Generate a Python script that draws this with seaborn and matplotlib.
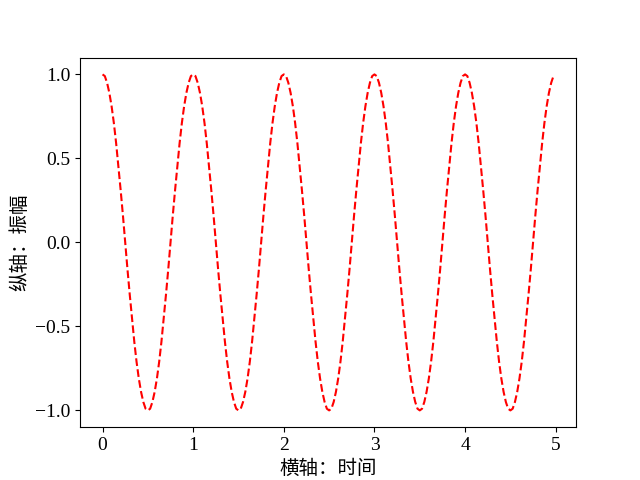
import numpy as np
import pandas as pd
import matplotlib
matplotlib.use("Agg")
import matplotlib.pyplot as plt
from matplotlib.ticker import MultipleLocator
import seaborn as sns

# time samples (0.025 s steps) and amplitude
time_pts = list(np.round(np.arange(0, 5.0, 0.025), 3))
amplitude = [
    # period 1
    1.00, 0.99, 0.95, 0.89, 0.81, 0.71, 0.59, 0.45, 0.31, 0.16,
    0.00, -0.16, -0.31, -0.45, -0.59, -0.71, -0.81, -0.89, -0.95, -0.99,
    -1.00, -0.99, -0.95, -0.89, -0.81, -0.71, -0.59, -0.45, -0.31, -0.16,
    0.00, 0.16, 0.31, 0.45, 0.59, 0.71, 0.81, 0.89, 0.95, 0.99,
    # period 2
    1.00, 0.99, 0.95, 0.89, 0.81, 0.71, 0.59, 0.45, 0.31, 0.16,
    0.00, -0.16, -0.31, -0.45, -0.59, -0.71, -0.81, -0.89, -0.95, -0.99,
    -1.00, -0.99, -0.95, -0.89, -0.81, -0.71, -0.59, -0.45, -0.31, -0.16,
    0.00, 0.16, 0.31, 0.45, 0.59, 0.71, 0.81, 0.89, 0.95, 0.99,
    # period 3
    1.00, 0.99, 0.95, 0.89, 0.81, 0.71, 0.59, 0.45, 0.31, 0.16,
    0.00, -0.16, -0.31, -0.45, -0.59, -0.71, -0.81, -0.89, -0.95, -0.99,
    -1.00, -0.99, -0.95, -0.89, -0.81, -0.71, -0.59, -0.45, -0.31, -0.16,
    0.00, 0.16, 0.31, 0.45, 0.59, 0.71, 0.81, 0.89, 0.95, 0.99,
    # period 4
    1.00, 0.99, 0.95, 0.89, 0.81, 0.71, 0.59, 0.45, 0.31, 0.16,
    0.00, -0.16, -0.31, -0.45, -0.59, -0.71, -0.81, -0.89, -0.95, -0.99,
    -1.00, -0.99, -0.95, -0.89, -0.81, -0.71, -0.59, -0.45, -0.31, -0.16,
    0.00, 0.16, 0.31, 0.45, 0.59, 0.71, 0.81, 0.89, 0.95, 0.99,
    # period 5
    1.00, 0.99, 0.95, 0.89, 0.81, 0.71, 0.59, 0.45, 0.31, 0.16,
    0.00, -0.16, -0.31, -0.45, -0.59, -0.71, -0.81, -0.89, -0.95, -0.99,
    -1.00, -0.99, -0.95, -0.89, -0.81, -0.71, -0.59, -0.45, -0.31, -0.16,
    0.00, 0.16, 0.31, 0.45, 0.59, 0.71, 0.81, 0.89, 0.95, 0.99,
]
x_label = "横轴：时间"
y_label = "纵轴：振幅"

plt.rcParams['font.family'] = ['Liberation Serif', 'Noto Sans CJK SC']
plt.rcParams['font.size'] = 14

df = pd.DataFrame({'t': time_pts, 'y': amplitude})

fig, ax = plt.subplots(figsize=(6.4, 4.8), dpi=100)
sns.lineplot(data=df, x='t', y='y', color='red', linestyle='--', ax=ax)
ax.yaxis.set_major_locator(MultipleLocator(0.5))
ax.set_xlabel(x_label)
ax.set_ylabel(y_label)

plt.savefig('out.png', dpi=100)
